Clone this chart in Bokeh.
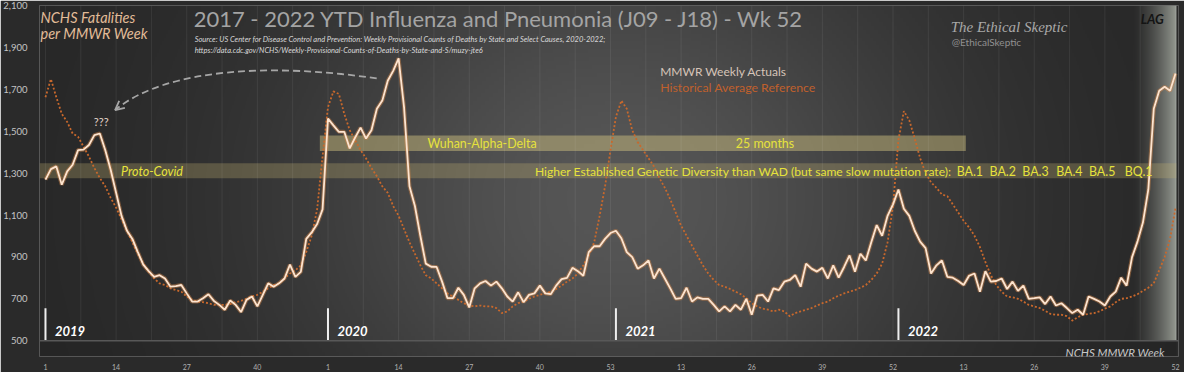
import numpy as np
from bokeh.plotting import figure
from bokeh.models import FixedTicker, Label, Arrow, OpenHead, Range1d, BoxAnnotation, NumeralTickFormatter, Span
from bokeh.embed import file_html
from bokeh.resources import INLINE
from bokeh.core.properties import value

# ---------------- data ----------------
years = ["2019", "2020", "2021", "2022"]

actual_2019 = [1269, 1319, 1332, 1245, 1308, 1340, 1410, 1412, 1434, 1481, 1489, 1410, 1316,
               1206, 1096, 1025, 986, 923, 863, 832, 805, 813, 797, 758, 761, 766,
               726, 687, 687, 703, 722, 690, 671, 648, 692, 671, 637, 695, 711,
               664, 719, 774, 758, 774, 797, 863, 805, 829, 986, 1017, 1057, 1127]
actual_2020 = [1560, 1528, 1497, 1497, 1418, 1470, 1517, 1465, 1505, 1607, 1646, 1741, 1788,
               1848, 1615, 1237, 1143, 1001, 868, 853, 852, 782, 703, 703, 753, 719,
               659, 750, 774, 785, 763, 782, 750, 711, 687, 731, 684, 719, 726,
               763, 726, 722, 763, 794, 800, 848, 832, 810, 923, 951, 951, 986, 1014]
actual_2021 = [1025, 989, 923, 899, 844, 860, 883, 797, 844, 797, 750, 700, 703,
               753, 687, 707, 700, 700, 671, 640, 664, 640, 671, 648, 700, 624,
               715, 719, 687, 750, 742, 782, 790, 813, 758, 868, 844, 830, 848,
               797, 860, 801, 852, 907, 829, 915, 883, 970, 1052, 1001, 1096, 1151]
actual_2022 = [1222, 1130, 1096, 1025, 973, 942, 821, 860, 883, 805, 801, 785, 766,
               810, 821, 734, 832, 782, 785, 797, 747, 782, 738, 763, 700, 703,
               707, 675, 711, 668, 679, 656, 632, 648, 624, 711, 700, 687, 668,
               711, 734, 801, 763, 899, 973, 1064, 1222, 1607, 1693, 1712, 1693, 1775]

hist_2019 = [1662, 1749, 1662, 1583, 1544, 1489, 1473, 1426, 1379, 1324, 1277, 1237, 1182,
             1135, 1080, 1025, 970, 915, 868, 829, 797, 774, 766, 750, 742, 734,
             711, 695, 687, 684, 679, 671, 671, 671, 675, 684, 690, 700, 711,
             719, 734, 750, 766, 774, 797, 821, 836, 860, 923, 1001, 1127, 1379]
hist_2020 = [1615, 1690, 1678, 1583, 1505, 1457, 1410, 1371, 1324, 1285, 1237, 1206, 1143,
             1096, 1033, 970, 915, 860, 813, 797, 774, 750, 726, 711, 695, 679,
             668, 664, 668, 664, 664, 656, 632, 640, 664, 679, 687, 700, 711,
             719, 726, 734, 747, 763, 782, 797, 821, 860, 907, 970, 1096, 1237, 1410]
hist_2021 = [1568, 1646, 1607, 1505, 1449, 1410, 1371, 1332, 1277, 1230, 1175, 1112, 1049,
             1001, 954, 907, 860, 821, 790, 766, 758, 747, 734, 722, 703, 679,
             664, 653, 648, 640, 648, 640, 617, 632, 640, 648, 656, 668, 679,
             687, 703, 715, 726, 734, 742, 753, 766, 790, 821, 868, 970, 1143]
hist_2022 = [1458, 1596, 1552, 1465, 1371, 1300, 1256, 1230, 1198, 1190, 1151, 1112, 1072,
             1041, 1001, 947, 876, 813, 766, 734, 711, 707, 700, 687, 671, 664,
             656, 643, 628, 624, 624, 617, 596, 612, 624, 628, 632, 640, 653,
             664, 684, 700, 703, 711, 722, 738, 753, 774, 836, 899, 986, 1135]

week_tick_labels = ["1", "14", "27", "40", "1", "14", "27", "40", "53",
                    "13", "26", "39", "52", "13", "26", "39", "52"]
y_ticks = [500, 700, 900, 1100, 1300, 1500, 1700, 1900, 2100]
lag_weeks = 8

band_texts_ba = ["BA.1", "BA.2", "BA.3", "BA.4", "BA.5", "BQ.1"]

# ---------------- derived ----------------
actual = actual_2019 + actual_2020 + actual_2021 + actual_2022
hist = hist_2019 + hist_2020 + hist_2021 + hist_2022
n = len(actual)
idx = list(range(n))
year_lengths = [len(actual_2019), len(actual_2020), len(actual_2021), len(actual_2022)]
year_starts = [int(v) for v in np.concatenate([[0], np.cumsum(year_lengths)[:-1]])]
tick_positions = list(range(0, n, 13))
grid_x = list(np.arange(0, n, 6.5))
YB, YT = y_ticks[0], y_ticks[-1]

# ---------------- layout ----------------
W, H = 1184, 372
BL, BR, BT, BB = 33, 6, 5, 11
FW = W - BL - BR
FH = H - BT - BB
PXU = 340 / (YT - YB)            # px per data unit
AXIS_PY = 353                    # page y of the 500 line
FRAME_BOTTOM_PY = 8 + BT + FH
X0, X1 = -1.1, 208.55
Y0 = YB - (FRAME_BOTTOM_PY - AXIS_PY) / PXU
Y1 = YT


def X(px):  # page pixel -> data x
    return X0 + (px - 8 - BL) * (X1 - X0) / FW


def Y(py):  # page pixel -> data y
    return Y0 + (FRAME_BOTTOM_PY - py) / PXU


FONT = "Lato"

p = figure(width=W, height=H, x_range=Range1d(X0, X1), y_range=Range1d(Y0, Y1),
           output_backend="svg", toolbar_location=None,
           min_border_left=BL, min_border_right=BR, min_border_top=BT, min_border_bottom=BB,
           background_fill_color="#3a3a3a", border_fill_color="#2a2a2a",
           outline_line_color=None)

# background gradient (decoration)
cols, rows = FW, 89
xs_px = 8 + BL + (np.arange(cols) + 0.5) * FW / cols
ys_px = 8 + BT + FH - (np.arange(rows) + 0.5) * FH / rows
xs_data = X0 + (np.arange(cols) + 0.5) * (X1 - X0) / cols
XX, YY = np.meshgrid(xs_px, ys_px)
g = 38 + 48 * np.exp(-((XX - 620) / 340) ** 2 - ((YY - 210) / 300) ** 2)
g = np.where(YY > AXIS_PY, 30 + (g - 30) * 0.75, g)
R = g.copy(); G = g.copy(); B = g.copy()
ls, le = n - 1 - lag_weeks, n - 1 + 0.15
XD = np.tile(xs_data, (rows, 1))
m = (XD >= ls) & (XD <= le) & (YY <= AXIS_PY)
t = np.clip((XD - ls) / (le - ls), 0, 1)
a = np.where(m, 0.85 * t ** 1.5, 0)
R = (1 - a) * R + a * 168
G = (1 - a) * G + a * 173
B = (1 - a) * B + a * 164
beyond = XD > le
R[beyond] = 42; G[beyond] = 42; B[beyond] = 42
img = np.empty((rows, cols), dtype=np.uint32)
view = img.view(dtype=np.uint8).reshape((rows, cols, 4))
view[..., 0] = np.clip(R, 0, 255).astype(np.uint8)
view[..., 1] = np.clip(G, 0, 255).astype(np.uint8)
view[..., 2] = np.clip(B, 0, 255).astype(np.uint8)
view[..., 3] = 255
bg = p.image_rgba(image=[img], x=X0, y=Y0, dw=X1 - X0, dh=Y1 - Y0)
bg.level = "image"

# grid / axes
p.xgrid.grid_line_color = None
p.ygrid.grid_line_color = None
p.segment(x0=grid_x, y0=[YB] * len(grid_x), x1=grid_x, y1=[YT] * len(grid_x),
          line_color="#ffffff", line_alpha=0.07, line_width=1)
p.add_layout(Span(location=YB, dimension="width", line_color="#585858", line_width=1.5))

p.xaxis.ticker = FixedTicker(ticks=tick_positions)
p.xaxis.major_label_overrides = {tp: lab for tp, lab in zip(tick_positions, week_tick_labels)}
p.xaxis.axis_line_color = None
p.xaxis.major_tick_line_color = None
p.xaxis.minor_tick_line_color = None
p.xaxis.major_label_standoff = 1
p.xaxis.major_label_text_font = FONT
p.xaxis.major_label_text_font_size = "7px"
p.xaxis.major_label_text_color = "#b0b0b0"

p.yaxis.ticker = FixedTicker(ticks=y_ticks)
p.yaxis.formatter = NumeralTickFormatter(format="0,0")
p.yaxis.axis_line_color = None
p.yaxis.major_tick_line_color = None
p.yaxis.minor_tick_line_color = None
p.yaxis.major_label_standoff = 6
p.yaxis.major_label_text_font = FONT
p.yaxis.major_label_text_font_size = "9.5px"
p.yaxis.major_label_text_color = "#c4c4c4"

# bands
p.add_layout(BoxAnnotation(left=None, right=n - 1 + 0.15, bottom=1276, top=1347,
                           fill_color="#bfae70", fill_alpha=0.30, line_color=None, level="underlay"))
p.add_layout(BoxAnnotation(left=50.5, right=169.4, bottom=1405, top=1479,
                           fill_color="#d7c882", fill_alpha=0.45, line_color=None, level="underlay"))

# year markers
marker_top = 655
p.segment(x0=year_starts, y0=[YB] * 4, x1=year_starts, y1=[marker_top] * 4,
          line_color="#eeeeee", line_width=2)
p.text(x=year_starts, y=[547] * 4, text=years, x_offset=9.5, text_baseline="middle",
       text_font=value(FONT), text_font_style="bold italic", text_font_size="13px",
       text_color="#ffffff")

# series
p.line(idx, hist, line_color="#c8682c", line_width=1.8, line_dash="2 2")
p.line(idx, actual, line_color="#d8884a", line_width=4, line_alpha=0.45)
p.line(idx, actual, line_color="#fde4cf", line_width=1.8)

# dashed arrow
p.bezier(x0=[X(380)], y0=[Y(87)], x1=[X(117)], y1=[Y(119)],
         cx0=[X(280)], cy0=[Y(72)], cx1=[X(170)], cy1=[Y(75)],
         line_color="#a6a6a6", line_width=1.8, line_dash="7 4")
p.add_layout(Arrow(end=OpenHead(size=9, line_color="#a6a6a6", line_width=1.8),
                   x_start=X(122.3), y_start=Y(114.6), x_end=X(117), y_end=Y(119),
                   line_alpha=0))


def lbl(text, x, y, size, color, style="normal", align="left", font=FONT):
    p.add_layout(Label(x=X(x), y=Y(y), text=text, text_font=font, text_font_size=size,
                       text_color=color, text_font_style=style, text_align=align,
                       text_baseline="middle"))


YEL = "#e6e23c"
lbl("2017 - 2022 YTD Influenza and Pneumonia (J09 - J18) - Wk 52", 196, 26, "22px", "#a4a4a4")
lbl("Source: US Center for Disease Control and Prevention: Weekly Provisional Counts of Deaths by State and Select Causes, 2020-2022;",
    197, 47, "7.5px", "#d8d8d8", "italic")
lbl("https://data.cdc.gov/NCHS/Weekly-Provisional-Counts-of-Deaths-by-State-and-S/muzy-jte6",
    197, 59, "7.5px", "#d8d8d8", "italic")
lbl("NCHS Fatalities", 42, 25, "14.5px", "#e2bc98", "italic")
lbl("per MMWR Week", 42, 41, "14.5px", "#e2bc98", "italic")
lbl("The Ethical Skeptic", 957, 35, "15px", "#a8a8a8", "italic", font="Liberation Serif")
lbl("@EthicalSkeptic", 958, 50, "10px", "#909090")
lbl("LAG", 1148, 27, "13px", "#141414", "bold italic")
lbl("MMWR Weekly Actuals", 665, 80, "12px", "#d6c4b8")
lbl("Historical Average Reference", 665, 96, "12.3px", "#c0602c")
lbl("???", 103, 131, "11px", "#e4d6ca", align="center")
lbl("Proto-Covid", 123, 181, "12.5px", YEL, "italic")
lbl("Wuhan-Alpha-Delta", 431, 153, "12.4px", YEL)
lbl("25 months", 741, 153, "12.4px", YEL)
lbl("Higher Established Genetic Diversity than WAD (but same slow mutation rate):", 539, 181, "12.1px", YEL)
for txt, xp in zip(band_texts_ba, [963, 996, 1029, 1063, 1096, 1132]):
    lbl(txt, xp, 181, "12.4px", YEL)
lbl("NCHS MMWR Week", 1172, 365, "11.5px", "#c8c8c8", "italic", align="right")

open("out.html", "w").write(file_html(p, INLINE))
